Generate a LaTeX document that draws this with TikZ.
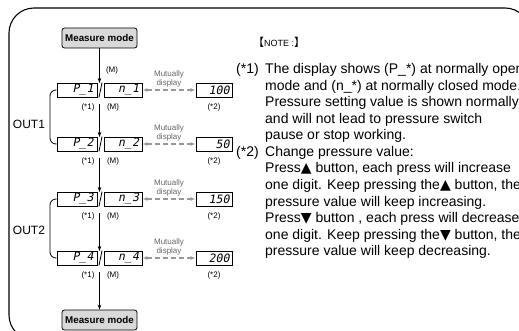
\documentclass[tikz,border=0pt]{standalone}
\usepackage{fontspec}
\setmainfont{Liberation Sans}
\newfontfamily\segfont[FakeSlant=0.2]{DejaVu Sans Mono}
\newfontfamily\symfont{DejaVu Sans}
\newfontfamily\cjkfont{Noto Sans CJK SC}
\usetikzlibrary{arrows.meta,calc}
\newcommand{\upT}{{\symfont ▲}}
\newcommand{\dnT}{{\symfont ▼}}
\begin{document}
\begin{tikzpicture}[x=1pt,y=-1pt,
  mmbox/.style={draw,rounded corners=2.5pt,fill=gray!30,line width=0.8pt,minimum width=75pt,minimum height=20pt,inner sep=0pt,font=\fontsize{9.8}{10}\selectfont\bfseries},
  segbase/.style={draw,line width=0.9pt,minimum height=14pt,inner sep=0pt,align=right,font=\segfont\fontsize{11.5}{11.5}\selectfont},
  segP/.style={segbase,minimum width=40pt,text width=33pt},
  segN/.style={segbase,minimum width=38pt,text width=32pt},
  segV/.style={segbase,minimum width=36pt,text width=31pt},
  lab/.style={font=\fontsize{8}{8}\selectfont,inner sep=0pt},
  mut/.style={font=\fontsize{8}{9}\selectfont,text=gray!80!black,align=center,inner sep=0pt},
  arr/.style={-{Stealth[length=5pt,width=3.6pt]},line width=0.7pt},
  darr/.style={{Latex[length=5pt,width=4pt]}-{Latex[length=5pt,width=4pt]},draw=gray!80,line width=1.1pt,dash pattern=on 5pt off 3pt},
  note/.style={anchor=base west,inner sep=0pt,font=\fontsize{14}{16}\selectfont},
  outlab/.style={font=\fontsize{12}{12}\selectfont,inner sep=0pt}
]
\useasboundingbox (0,0) rectangle (519,331);
\clip (0,0) rectangle (519,331);
% frame
\draw[line width=1.1pt,rounded corners=25pt] (530,340) -- (530,8) -- (9,8) -- (9,340) -- cycle;
% measure mode boxes
\node[mmbox] (mtop) at (99.5,38) {Measure mode};
\node[mmbox] (mbot) at (99.5,320) {Measure mode};
\node[lab] (mlab) at (112,70) {(M)};
% rows
\foreach \i/\y/\v in {1/90/100,2/144/50,3/199/150,4/258/200}{
  \node[segP] (p\i) at (77,\y) {P\_\i};
  \node[segN] (n\i) at (123,\y) {n\_\i};
  \node[segV] (v\i) at (214,\y) {\v};
  \draw[line width=0.8pt] ($(p\i.south east)+(1.5,0)$) -- ($(n\i.north west)+(-1.5,0)$);
  \coordinate (t\i) at (99.5,\y-7);
  \coordinate (b\i) at (99.5,\y+14);
  \node[lab] (a\i) at (88,\y+17) {(*1)};
  \node[lab] (m\i) at (113,\y+17) {(M)};
  \node[lab] (c\i) at (214,\y+17) {(*2)};
  \node[mut] (u\i) at (169,\y-11) {Mutually\\display};
  \draw[darr] (n\i.east) -- (v\i.west);
}
% vertical arrows
\draw[arr] (mtop.south) -- (t1);
\draw[arr] (b1) -- (t2);
\draw[arr] (b2) -- (t3);
\draw[arr] (b3) -- (t4);
\draw[arr] (b4) -- (mbot.north);
% brackets
\draw[line width=0.8pt,rounded corners=6pt] (p1.west) -- (50,90) -- (50,144) -- (p2.west);
\draw[line width=0.8pt,rounded corners=6pt] (p3.west) -- (50,199) -- (50,258) -- (p4.west);
\node[outlab] (o1) at (29,124) {OUT1};
\node[outlab] (o2) at (29,230) {OUT2};
% notes
\node[anchor=base west,inner sep=0pt] (nt) at (253,47) {{\cjkfont\fontsize{11}{11}\selectfont 【}{\fontsize{9}{9}\selectfont NOTE :}{\cjkfont\fontsize{11}{11}\selectfont 】}};
\node[note,anchor=base east] (k1) at (259,74) {(*1)};
\node[note,anchor=base east] (k2) at (259,156.5) {(*2)};
\foreach \t [count=\i from 0] in {
  {The display shows (P\_*) at normally open},
  {mode and (n\_*) at normally closed mode.},
  {Pressure setting value is shown normally},
  {and will not lead to pressure switch},
  {pause or stop working.},
  {Change pressure value:},
  {Press\upT\ button, each press will increase},
  {one digit. Keep pressing the\upT\ button, the},
  {pressure value will keep increasing.},
  {Press\dnT\ button , each press will decrease},
  {one digit. Keep pressing the\dnT\ button, the},
  {pressure value will keep decreasing.}}{
  \node[note] (L\i) at (265,74+\i*16.5) {\t};
}
\end{tikzpicture}
\end{document}
